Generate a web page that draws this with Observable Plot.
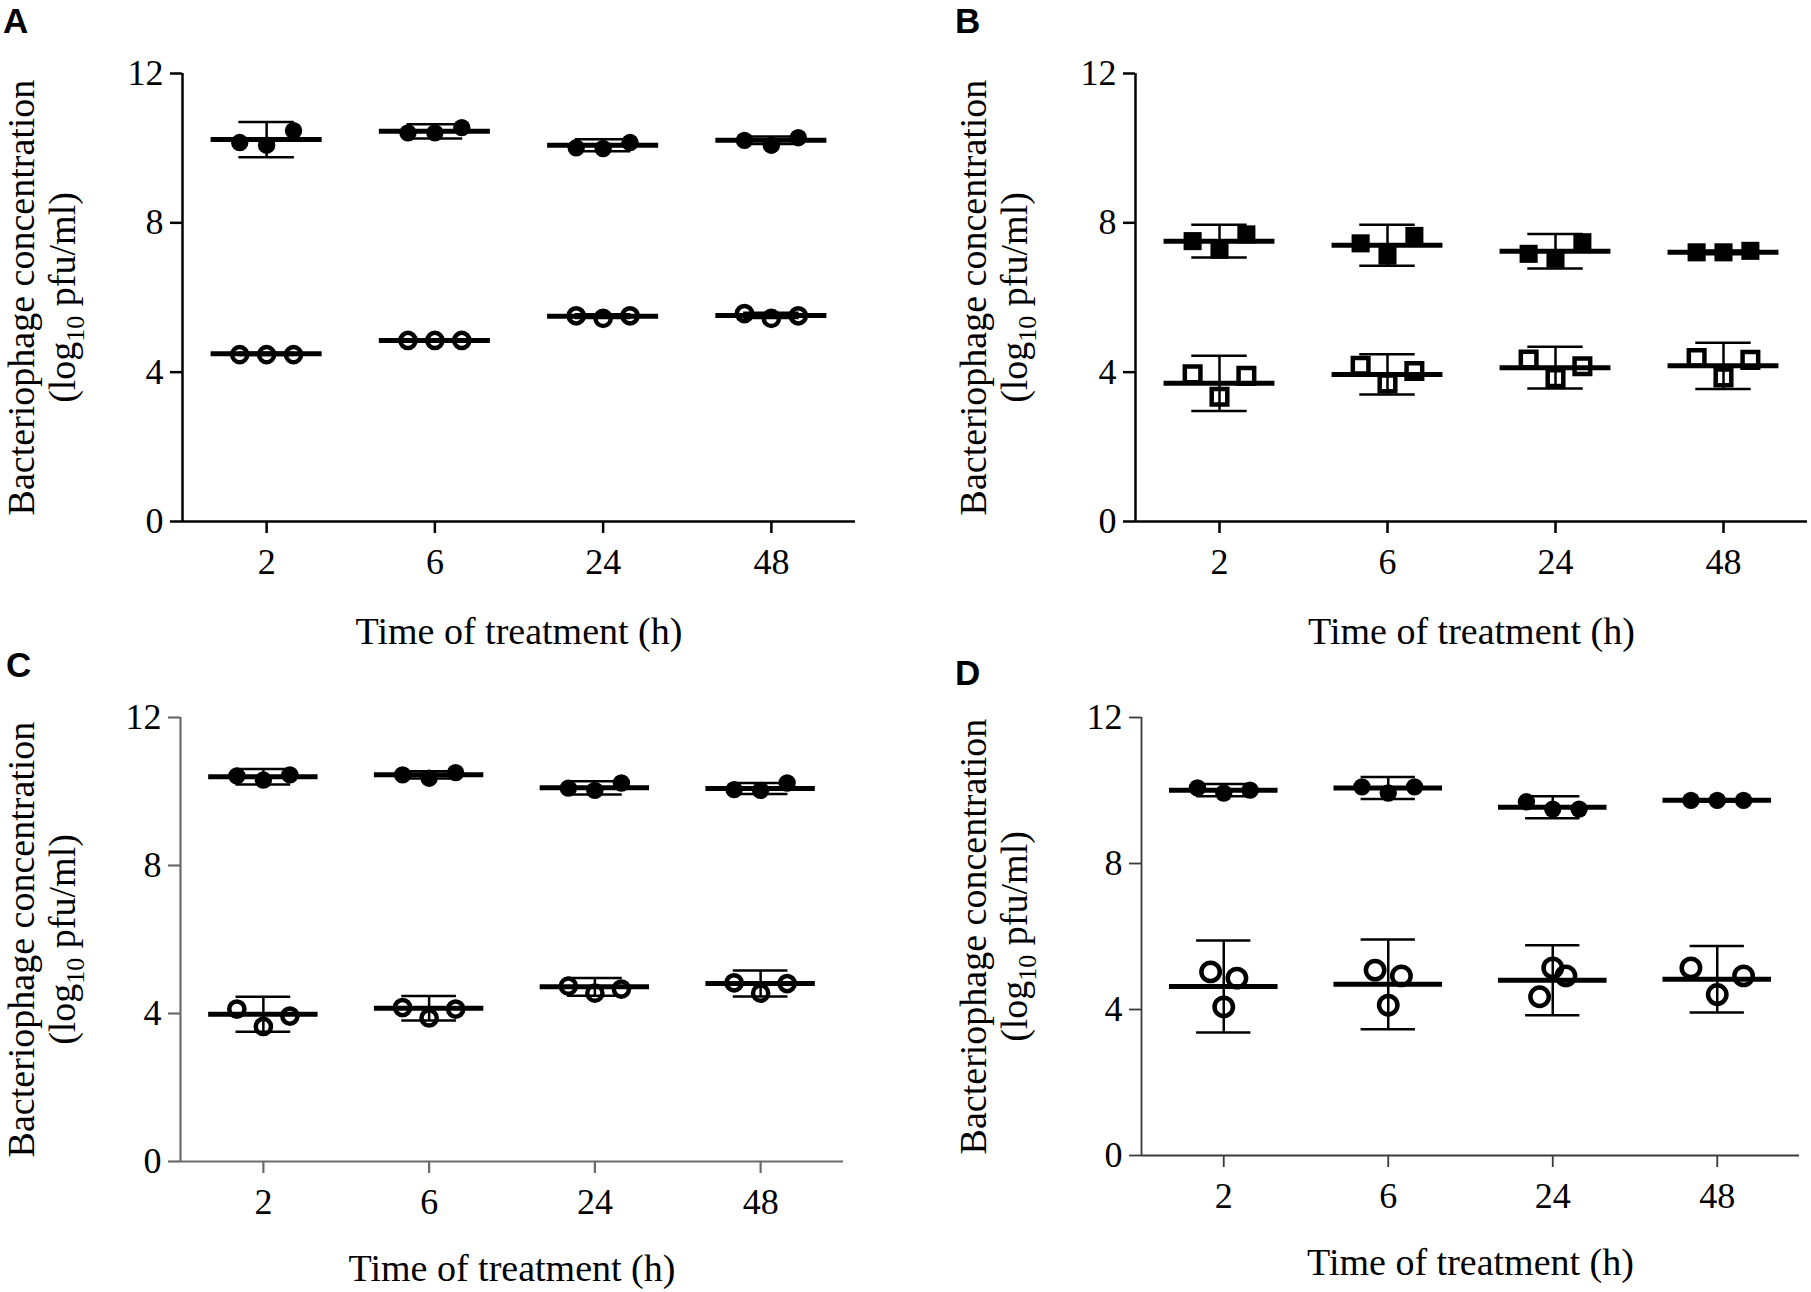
<!DOCTYPE html>
<html>
<head>
<meta charset="utf-8">
<script src="https://cdn.jsdelivr.net/npm/d3@7"></script>
<script src="https://cdn.jsdelivr.net/npm/@observablehq/plot@0.6"></script>
<style>
  html, body { margin: 0; padding: 0; background: white; }
  #root { position: relative; width: 1811px; height: 1292px; background: white; overflow: hidden; }
  .panel { position: absolute; width: 905px; height: 646px; }
  .panel svg { overflow: visible; }
</style>
</head>
<body>
<div id="root"></div>
<script>
// ---------- shared labels ----------
const times = ["2", "6", "24", "48"];
const yTicks = [0, 4, 8, 12];
const xTitle = "Time of treatment (h)";
const yTitleLine1 = "Bacteriophage concentration";
const yTitleLine2 = "(log\u2081\u2080 pfu/ml)";
const panelLetters = ["A", "B", "C", "D"];

// ---------- Panel A (filled circles / open circles) ----------
const aFilledReps = [[10.15, 10.08, 10.47], [10.41, 10.41, 10.55], [10.01, 9.99, 10.15], [10.21, 10.08, 10.28]];
const aFilledMean = [10.23, 10.45, 10.08, 10.21];
const aFilledErr  = [0.47, 0.19, 0.16, 0.10];
const aOpenReps   = [[4.47, 4.47, 4.47], [4.85, 4.85, 4.85], [5.51, 5.44, 5.51], [5.57, 5.44, 5.51]];
const aOpenMean   = [4.49, 4.85, 5.50, 5.52];
const aOpenErr    = [0.03, 0.03, 0.05, 0.07];

// ---------- Panel B (filled squares / open squares) ----------
const bFilledReps = [[7.51, 7.28, 7.69], [7.45, 7.12, 7.65], [7.17, 7.04, 7.48], [7.21, 7.21, 7.25]];
const bFilledMean = [7.51, 7.40, 7.24, 7.21];
const bFilledErr  = [0.44, 0.55, 0.46, 0.05];
const bOpenReps   = [[3.94, 3.34, 3.90], [4.17, 3.70, 4.03], [4.34, 3.84, 4.16], [4.38, 3.86, 4.33]];
const bOpenMean   = [3.70, 3.94, 4.12, 4.17];
const bOpenErr    = [0.74, 0.54, 0.56, 0.62];

// ---------- Panel C ----------
const cFilledReps = [[10.42, 10.31, 10.45], [10.45, 10.36, 10.51], [10.09, 10.03, 10.23], [10.05, 10.03, 10.23]];
const cFilledMean = [10.40, 10.45, 10.10, 10.08];
const cFilledErr  = [0.21, 0.10, 0.18, 0.15];
const cOpenReps   = [[4.12, 3.65, 3.93], [4.16, 3.88, 4.12], [4.74, 4.55, 4.66], [4.83, 4.55, 4.81]];
const cOpenMean   = [3.98, 4.14, 4.72, 4.81];
const cOpenErr    = [0.47, 0.33, 0.24, 0.35];

// ---------- Panel D ----------
const dFilledReps = [[10.07, 9.93, 10.01], [10.10, 9.93, 10.10], [9.69, 9.49, 9.49], [9.73, 9.73, 9.73]];
const dFilledMean = [10.01, 10.07, 9.54, 9.73];
const dFilledErr  = [0.17, 0.30, 0.30, 0.03];
const dOpenReps   = [[5.03, 4.07, 4.86], [5.08, 4.12, 4.92], [4.35, 5.14, 4.92], [5.14, 4.41, 4.92]];
const dOpenMean   = [4.63, 4.69, 4.80, 4.83];
const dOpenErr    = [1.26, 1.23, 0.96, 0.91];

// ---------- layout / style (not data) ----------
const W = 905, H = 646;
const FONT = "'Liberation Serif', 'Times New Roman', serif";
const MEAN_HALF = 0.33, CAP_HALF = 0.165;

const panels = [
  { left: 0,   top: 0,   ml: 182, mr: 50, mt: 73, mb: 125, axis: "#000", aw: 2.5, xdy: 110, ydx: -141.6,
    groups: [
      { reps: aFilledReps, mean: aFilledMean, err: aFilledErr, symbol: "circle", filled: true,  r: 8.7, jitter: [0.16,0.16,0.16,0.16] },
      { reps: aOpenReps,   mean: aOpenMean,   err: aOpenErr,   symbol: "circle", filled: false, r: 7.6, jitter: [0.16,0.16,0.16,0.16] }
    ] },
  { left: 906, top: 0,   ml: 229, mr: 4,  mt: 73, mb: 125, axis: "#000", aw: 2.5, xdy: 110, ydx: -142.6,
    groups: [
      { reps: bFilledReps, mean: bFilledMean, err: bFilledErr, symbol: "square", filled: true,  r: 10.2, jitter: [0.16,0.16,0.16,0.16] },
      { reps: bOpenReps,   mean: bOpenMean,   err: bOpenErr,   symbol: "square", filled: false, r: 8.8, jitter: [0.16,0.16,0.16,0.16] }
    ] },
  { left: 0,   top: 646, ml: 180, mr: 62, mt: 71, mb: 131, axis: "#6b6b6b", aw: 2.2, xdy: 107, ydx: -139.6,
    groups: [
      { reps: cFilledReps, mean: cFilledMean, err: cFilledErr, symbol: "circle", filled: true,  r: 8.7, jitter: [0.16,0.16,0.16,0.16] },
      { reps: cOpenReps,   mean: cOpenMean,   err: cOpenErr,   symbol: "circle", filled: false, r: 7.6, jitter: [0.16,0.16,0.16,0.16] }
    ] },
  { left: 906, top: 646, ml: 235, mr: 12, mt: 71, mb: 137, axis: "#3a3a3a", aw: 1.8, xdy: 107, ydx: -148.6,
    groups: [
      { reps: dFilledReps, mean: dFilledMean, err: dFilledErr, symbol: "circle", filled: true,  r: 8.7, jitter: [0.16,0.16,0.16,0.16] },
      { reps: dOpenReps,   mean: dOpenMean,   err: dOpenErr,   symbol: "circle", filled: false, r: 9.2, jitter: [0.08,0.08,0.08,0.16] }
    ] }
];

const root = document.getElementById("root");

function groupMarks(g) {
  const stats = g.mean.map((m, i) => ({ i, mean: m, lo: m - g.err[i], hi: m + g.err[i] }));
  const pts = [];
  g.reps.forEach((arr, i) => arr.forEach((v, k) => pts.push({ i, k, v, j: g.jitter[i] })));
  const dotOpts = g.filled
    ? { fill: "black", stroke: "none" }
    : { fill: "none", stroke: "black", strokeWidth: 4.5 };
  return [
    Plot.ruleX(stats, { x: "i", y1: "lo", y2: "hi", stroke: "black", strokeWidth: 2.5 }),
    Plot.ruleY(stats, { y: "lo", x1: d => d.i - CAP_HALF, x2: d => d.i + CAP_HALF, stroke: "black", strokeWidth: 2.5 }),
    Plot.ruleY(stats, { y: "hi", x1: d => d.i - CAP_HALF, x2: d => d.i + CAP_HALF, stroke: "black", strokeWidth: 2.5 }),
    Plot.dot(pts, { x: d => d.i + (d.k - 1) * d.j, y: "v", r: g.r, symbol: g.symbol, ...dotOpts }),
    Plot.ruleY(stats, { y: "mean", x1: d => d.i - MEAN_HALF, x2: d => d.i + MEAN_HALF, stroke: "black", strokeWidth: 5 })
  ];
}

panels.forEach((p, idx) => {
  const marks = [
    Plot.ruleX([-0.5], { y1: 0, y2: 12, stroke: p.axis, strokeWidth: p.aw }),
    Plot.ruleY([0], { x1: -0.5, x2: 3.5, stroke: p.axis, strokeWidth: p.aw }),
    Plot.axisY({ ticks: yTicks, tickSize: 12, tickPadding: 7, fontSize: 36, stroke: p.axis, strokeWidth: p.aw, fill: "black", label: null }),
    Plot.axisX({ ticks: [0, 1, 2, 3], tickFormat: i => times[i], tickSize: 12, tickPadding: 15, fontSize: 36, stroke: p.axis, strokeWidth: p.aw, fill: "black", label: null }),
    Plot.text([xTitle], { text: d => d, frameAnchor: "bottom", lineAnchor: "middle", textAnchor: "middle", dy: p.xdy, fontSize: 38, fill: "black" }),
    Plot.text([yTitleLine1 + "\n" + yTitleLine2], { text: d => d, frameAnchor: "left", textAnchor: "middle", lineAnchor: "middle", dx: p.ydx, rotate: -90, fontSize: 38, lineHeight: 1.08, fill: "black" })
  ];
  p.groups.forEach(g => marks.push(...groupMarks(g)));

  const chart = Plot.plot({
    width: W, height: H,
    marginLeft: p.ml, marginRight: p.mr, marginTop: p.mt, marginBottom: p.mb,
    style: { background: "transparent", overflow: "visible", fontFamily: FONT, color: "black" },
    x: { type: "linear", domain: [-0.5, 3.5], axis: null },
    y: { type: "linear", domain: [0, 12], axis: null },
    marks
  });

  // proper subscript for "10" in the y-axis title
  d3.select(chart).selectAll("tspan, text").each(function () {
    if (this.childElementCount === 0 && this.textContent === yTitleLine2) {
      const el = d3.select(this);
      el.text(null);
      el.append("tspan").text("(log");
      el.append("tspan").attr("font-size", "26px").attr("dy", "9").text("10");
      el.append("tspan").attr("dy", "-9").text(" pfu/ml)");
    }
  });

  const div = document.createElement("div");
  div.className = "panel";
  div.style.left = p.left + "px";
  div.style.top = p.top + "px";
  div.appendChild(chart);
  root.appendChild(div);
});

// panel letters
const letterPos = [[3, 33], [955, 33], [6, 677], [955, 685]];
const overlay = d3.create("svg")
  .attr("width", 1811).attr("height", 1292)
  .style("position", "absolute").style("left", "0px").style("top", "0px")
  .style("pointer-events", "none");
overlay.selectAll("text").data(panelLetters).join("text")
  .attr("x", (d, i) => letterPos[i][0])
  .attr("y", (d, i) => letterPos[i][1])
  .attr("font-family", "'Liberation Sans', Arial, sans-serif")
  .attr("font-weight", "bold")
  .attr("font-size", 35)
  .attr("fill", "black")
  .text(d => d);
root.appendChild(overlay.node());
</script>
</body>
</html>
